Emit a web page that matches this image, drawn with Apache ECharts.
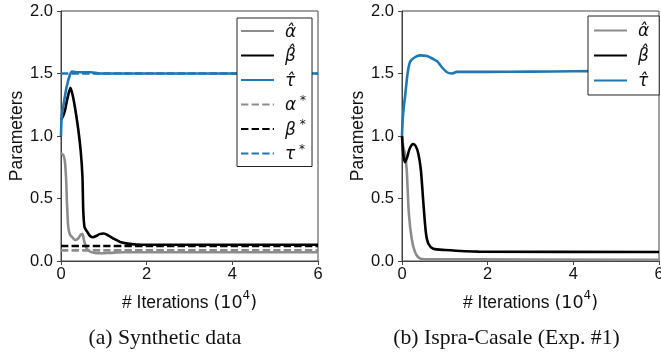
<!DOCTYPE html>
<html>
<head>
<meta charset="utf-8">
<script src="https://cdn.jsdelivr.net/npm/echarts@6/dist/echarts.min.js"></script>
<style>
  html, body {margin: 0; padding: 0; background: #fff;}
  #chart {width: 661px; height: 356px;}
</style>
</head>
<body>
<div id="chart"></div>
<script>
// x in units of 10^4 iterations
const xTicks = [0, 2, 4, 6];
const yTicks = [0, 0.5, 1.0, 1.5, 2.0];
const captions = ['(a) Synthetic data', '(b) Ispra-Casale (Exp. #1)'];

// (a) synthetic data
const synAlphaHat = [[0, 0.86], [0.05, 0.85], [0.09, 0.8], [0.12, 0.65], [0.14, 0.46], [0.17, 0.27],
  [0.21, 0.21], [0.25, 0.195], [0.33, 0.168], [0.4, 0.18], [0.46, 0.21], [0.5, 0.215], [0.54, 0.16],
  [0.6, 0.1], [0.68, 0.075], [0.8, 0.064], [0.91, 0.062], [1.14, 0.065], [1.45, 0.07], [6, 0.07]];
const synBetaHat = [[0, 1.13], [0.05, 1.16], [0.09, 1.2], [0.15, 1.3], [0.22, 1.385], [0.27, 1.33],
  [0.33, 1.22], [0.4, 1.06], [0.46, 0.88], [0.5, 0.68], [0.52, 0.4], [0.55, 0.27], [0.61, 0.235],
  [0.68, 0.2], [0.75, 0.19], [0.82, 0.2], [0.9, 0.215], [1.0, 0.22], [1.1, 0.205], [1.25, 0.175],
  [1.4, 0.15], [1.6, 0.137], [1.9, 0.13], [2.5, 0.13], [6, 0.13]];
const synTauHat = [[0, 1.0], [0.016, 1.15], [0.06, 1.25], [0.13, 1.39], [0.21, 1.49], [0.26, 1.515],
  [0.4, 1.51], [0.7, 1.51], [0.9, 1.5], [6, 1.5]];
const synAlphaStar = 0.085;
const synBetaStar = 0.12;
const synTauStar = 1.5;

// (b) Ispra-Casale
const ispAlphaHat = [[0, 1.0], [0.03, 0.915], [0.07, 0.86], [0.11, 0.73], [0.16, 0.38], [0.23, 0.17],
  [0.3, 0.075], [0.38, 0.03], [0.5, 0.015], [6, 0.01]];
const ispBetaHat = [[0, 1.0], [0.03, 0.85], [0.07, 0.79], [0.12, 0.83], [0.18, 0.9], [0.26, 0.935],
  [0.32, 0.92], [0.38, 0.86], [0.44, 0.73], [0.5, 0.46], [0.56, 0.22], [0.62, 0.136], [0.73, 0.098],
  [1.0, 0.088], [1.78, 0.075], [6, 0.072]];
const ispTauHat = [[0, 1.0], [0.02, 1.15], [0.05, 1.26], [0.07, 1.31], [0.13, 1.5], [0.19, 1.595],
  [0.3, 1.63], [0.42, 1.645], [0.58, 1.64], [0.73, 1.616], [0.83, 1.595], [0.93, 1.55], [1.05, 1.51],
  [1.16, 1.5], [1.28, 1.513], [2.0, 1.513], [3.0, 1.515], [4.0, 1.518], [5.0, 1.52], [6, 1.52]];

const GREY = '#8c8c8c';
const BLACK = '#000000';
const BLUE = '#1f77b4';
const FRAME = '#444';
const DASH = [7.4, 3.2];

const names = {
  aHat: 'α\u0302', bHat: 'β\u0302', tHat: 'τ\u0302',
  aStar: 'α*', bStar: 'β*', tStar: 'τ*'
};

const flat = (v) => [[xTicks[0], v], [xTicks[xTicks.length - 1], v]];

const myChart = echarts.init(document.getElementById('chart'), null, {renderer: 'canvas'});

const lineSeries = (name, data, color, idx, dashed) => ({
  name,
  type: 'line',
  xAxisIndex: idx,
  yAxisIndex: idx,
  data,
  symbol: 'none',
  smooth: 0.25,
  lineStyle: {color, width: 2.6, type: dashed ? DASH : 'solid'},
  itemStyle: {color},
  emphasis: {disabled: true},
  animation: false
});

const gridBase = {top: 11, height: 250, width: 257, show: true, borderColor: FRAME, borderWidth: 1,
  outerBoundsMode: 'none', containLabel: false};

const xAxisFor = (idx) => ({
  type: 'value',
  gridIndex: idx,
  min: 0, max: 6, interval: 2,
  splitLine: {show: false},
  axisLine: {show: true, onZero: false, lineStyle: {color: FRAME, width: 1}},
  axisTick: {show: true, length: 4, lineStyle: {color: FRAME}},
  axisLabel: {fontSize: 16.5, color: '#111', margin: 5, fontFamily: 'Liberation Sans',
    formatter: (v) => String(v)},
  name: '{n|# Iterations }{m|(10}{s|4}{m|)}',
  nameLocation: 'middle',
  nameGap: 29,
  nameTextStyle: {
    rich: {
      n: {fontSize: 17.5, fontFamily: 'Liberation Sans', color: '#111', lineHeight: 22, verticalAlign: 'bottom'},
      m: {fontSize: 17.5, fontFamily: 'DejaVu Sans', color: '#111', lineHeight: 22, verticalAlign: 'bottom'},
      s: {fontSize: 12, fontFamily: 'DejaVu Sans', color: '#111', lineHeight: 22, verticalAlign: 'top'}
    }
  }
});

const yAxisFor = (idx) => ({
  type: 'value',
  gridIndex: idx,
  min: 0, max: 2, interval: 0.5,
  splitLine: {show: false},
  axisLine: {show: true, onZero: false, lineStyle: {color: FRAME, width: 1}},
  axisTick: {show: true, length: 4, lineStyle: {color: FRAME}},
  axisLabel: {fontSize: 16.5, color: '#111', margin: 8, fontFamily: 'Liberation Sans',
    formatter: (v) => v.toFixed(1)},
  name: 'Parameters',
  nameLocation: 'middle',
  nameGap: 35,
  nameTextStyle: {fontSize: 17.5, fontFamily: 'Liberation Sans', color: '#111'}
});

const legendRich = {
  p: {width: 6},
  g: {fontSize: 17, fontFamily: 'DejaVu Sans', fontStyle: 'italic', color: '#111', lineHeight: 20, verticalAlign: 'bottom'},
  s: {fontSize: 12, fontFamily: 'DejaVu Sans', color: '#111', lineHeight: 20, verticalAlign: 'top'}
};
const legendFormatter = (name) => {
  if (name.endsWith('*')) {
    return '{p|}{g|' + name.slice(0, -1) + '}{s| *}';
  }
  return '{p|}{g|' + name + '}';
};
const legendBase = {
  orient: 'vertical',
  selectedMode: false,
  itemWidth: 33,
  itemHeight: 14,
  itemStyle: {opacity: 0, borderWidth: 0},
  backgroundColor: '#fff',
  borderColor: '#222',
  borderWidth: 1,
  borderRadius: 0,
  formatter: legendFormatter,
  textStyle: {lineHeight: 20, rich: legendRich}
};

myChart.setOption({
  animation: false,
  grid: [
    Object.assign({left: 61}, gridBase),
    Object.assign({left: 402}, gridBase)
  ],
  xAxis: [xAxisFor(0), xAxisFor(1)],
  yAxis: [yAxisFor(0), yAxisFor(1)],
  legend: [
    Object.assign({}, legendBase, {
      left: 237, top: 18, itemGap: 4.5, padding: [3, 6, 3, 3],
      data: [names.aHat, names.bHat, names.tHat, names.aStar, names.bStar, names.tStar]
    }),
    Object.assign({}, legendBase, {
      left: 588, top: 16, itemGap: 5, padding: [4.5, 10, 4.5, 5],
      data: [names.aHat, names.bHat, names.tHat]
    })
  ],
  series: [
    lineSeries(names.aHat, synAlphaHat, GREY, 0, false),
    lineSeries(names.bHat, synBetaHat, BLACK, 0, false),
    lineSeries(names.tHat, synTauHat, BLUE, 0, false),
    lineSeries(names.aStar, flat(synAlphaStar), GREY, 0, true),
    lineSeries(names.bStar, flat(synBetaStar), BLACK, 0, true),
    lineSeries(names.tStar, flat(synTauStar), BLUE, 0, true),
    lineSeries(names.aHat, ispAlphaHat, GREY, 1, false),
    lineSeries(names.bHat, ispBetaHat, BLACK, 1, false),
    lineSeries(names.tHat, ispTauHat, BLUE, 1, false)
  ],
  graphic: [
    {type: 'text', style: {text: captions[0], x: 165, y: 338, textAlign: 'center',
      textVerticalAlign: 'middle', fontSize: 21.7, fontFamily: 'Liberation Serif', fill: '#111'}},
    {type: 'text', style: {text: captions[1], x: 506.5, y: 338, textAlign: 'center',
      textVerticalAlign: 'middle', fontSize: 21.7, fontFamily: 'Liberation Serif', fill: '#111'}}
  ]
});
</script>
</body>
</html>
